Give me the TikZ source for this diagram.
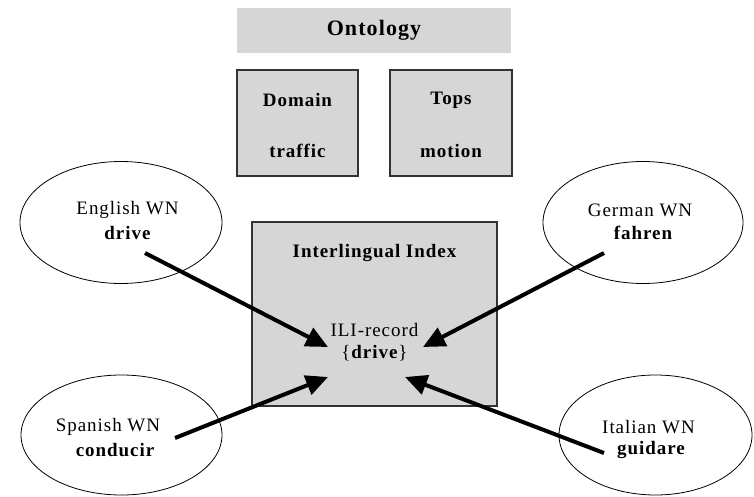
\documentclass[tikz,border=0pt]{standalone}
\usepackage{fontspec}
\setmainfont[LetterSpace=5]{Liberation Serif}
\usetikzlibrary{arrows.meta,shapes.geometric}
\definecolor{boxgrey}{HTML}{D6D6D6}
\definecolor{edgegrey}{HTML}{333333}
\begin{document}
\begin{tikzpicture}[x=1pt,y=-1pt,
  wnellipse/.style={draw=black,line width=0.8pt,fill=white,ellipse,inner sep=0pt},
  greybox/.style={draw=edgegrey,line width=1.2pt,fill=boxgrey,inner sep=0pt},
  txt/.style={font=\fontsize{19}{22}\selectfont,inner sep=0pt},
  btxt/.style={font=\fontsize{19}{22}\selectfont\bfseries,inner sep=0pt},
  bigarrow/.style={line width=4pt,-{Triangle[length=22pt,width=20pt]}}]
\useasboundingbox (0,0) rectangle (754,497);
\fill[white] (0,0) rectangle (754,497);
% Ontology
\node[fill=boxgrey,minimum width=274pt,minimum height=45pt,inner sep=0pt] (ontobar) at (374,30.5) {};
\node[btxt,font=\fontsize{22}{25}\selectfont\bfseries] (onto) at (374,30) {Ontology};
% Domain / Tops
\node[greybox,minimum width=121pt,minimum height=106pt] (dombox) at (297.5,123) {};
\node[btxt] (dom) at (297.5,100) {Domain};
\node[btxt] (traf) at (297.5,151) {traffic};
\node[greybox,minimum width=122pt,minimum height=106pt] (topsbox) at (451,123) {};
\node[btxt] (tops) at (451,100) {Tops};
\node[btxt] (mot) at (451,151) {motion};
% ILI
\node[greybox,minimum width=245pt,minimum height=184pt] (ilibox) at (374.5,314) {};
\node[btxt] (ili) at (374.5,253) {Interlingual Index};
\node[txt] (rec) at (374.5,330) {ILI-record};
\node[txt] (recd) at (374.5,353) {\{\textbf{drive}\}};
% ellipses
\node[wnellipse,minimum width=202pt,minimum height=122pt] (enell) at (121,222.5) {};
\node[txt] (en) at (127.5,210) {English WN};
\node[btxt] (enw) at (127.5,233) {drive};
\node[wnellipse,minimum width=200pt,minimum height=122pt] (deell) at (643,222.5) {};
\node[txt] (de) at (640,210) {German WN};
\node[btxt] (dew) at (643,233) {fahren};
\node[wnellipse,minimum width=201pt,minimum height=120pt] (esell) at (121.5,435) {};
\node[txt] (es) at (108,427) {Spanish WN};
\node[btxt] (esw) at (115,450) {conducir};
\node[wnellipse,minimum width=193pt,minimum height=120pt] (itell) at (655.5,435) {};
\node[txt] (it) at (648.5,427) {Italian WN};
\node[btxt] (itw) at (651,450) {guidare};
% arrow endpoints
\coordinate (s1) at (145,253); \coordinate (t1) at (328,347);
\coordinate (s2) at (604,253); \coordinate (t2) at (423,347);
\coordinate (s3) at (175,438); \coordinate (t3) at (328,377);
\coordinate (s4) at (604,453); \coordinate (t4) at (405,377);
\draw[bigarrow] (s1) -- (t1);
\draw[bigarrow] (s2) -- (t2);
\draw[bigarrow] (s3) -- (t3);
\draw[bigarrow] (s4) -- (t4);
\end{tikzpicture}
\end{document}
